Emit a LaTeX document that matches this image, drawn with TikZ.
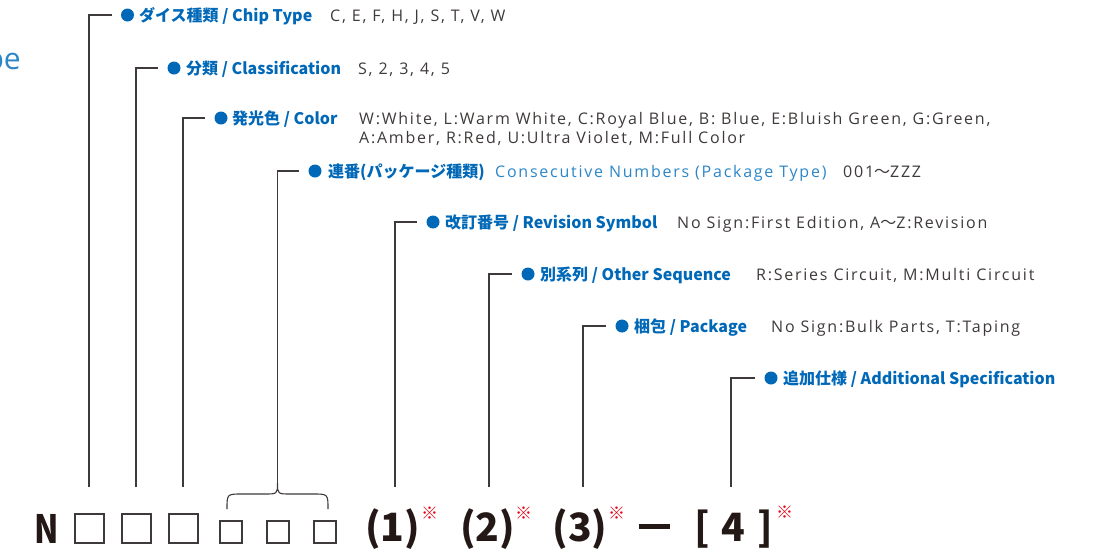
\documentclass[tikz,border=0pt]{standalone}
\usepackage{fontspec}
\setmainfont{Open Sans}
\newfontfamily\descfont{Open Sans}[LetterSpace=11]
\newfontfamily\jpfont{Noto Sans CJK JP}
\newfontfamily\narrowfont{Noto Sans CJK JP}[FakeStretch=0.82]
\usetikzlibrary{positioning}
\definecolor{nblue}{HTML}{0068B7}
\definecolor{lblue}{HTML}{2B86C8}
\definecolor{ngray}{HTML}{3E3A39}
\definecolor{nblack}{HTML}{231815}
\definecolor{nred}{HTML}{E60012}

\begin{document}
\begin{tikzpicture}[x=1pt, y=-1pt,
    dot/.style = {circle, fill=nblue, inner sep=0pt, minimum size=13pt},
    lbl/.style = {anchor=base west, inner sep=0pt, text=nblue, font=\jpfont\bfseries\fontsize{16pt}{19pt}\selectfont},
    desc/.style = {anchor=base west, inner sep=0pt, text=ngray, font=\descfont\fontsize{16pt}{19pt}\selectfont},
    bigbox/.style = {draw=ngray, line width=1.3pt, minimum size=29pt, inner sep=0pt},
    smallbox/.style = {bigbox, minimum size=22pt},
    code/.style = {anchor=base, inner sep=0pt, text=nblack, font=\jpfont\bfseries\fontsize{39pt}{40pt}\selectfont},
    note/.style = {inner sep=0pt, text=nred, font=\jpfont\fontsize{17pt}{17pt}\selectfont},
    leg/.style = {draw=ngray, line width=1.1pt, shorten >=9pt}]
    \useasboundingbox (0,0) rectangle (1093,550);

    \node[anchor=base east, inner sep=0pt, text=lblue, font=\fontsize{30pt}{32pt}\selectfont] (cut) at (21,69) {pe};

    \node[dot] (d1) at (127.5,15) {};
    \node[dot] (d2) at (174,68) {};
    \node[dot] (d3) at (221,118) {};
    \node[dot] (d4) at (315,171) {};
    \node[dot] (d5) at (433,222) {};
    \node[dot] (d6) at (528,274) {};
    \node[dot] (d7) at (622,326) {};
    \node[dot] (d8) at (771,378) {};

    \node[lbl] (l1) at (139,21) {ダイス種類 / Chip Type};
    \node[desc] (c1) at (330,21) {C, E, F, H, J, S, T, V, W};
    \node[lbl] (l2) at (186,74) {分類 / Classification};
    \node[desc] (c2) at (358,74) {S, 2, 3, 4, 5};
    \node[lbl] (l3) at (232,124) {発光色 / Color};
    \node[desc] (c3) at (359,124) {W:White, L:Warm White, C:Royal Blue, B: Blue, E:Bluish Green, G:Green,};
    \node[desc] (c3b) at (359,143) {A:Amber, R:Red, U:Ultra Violet, M:Full Color};
    \node[lbl] (l4) at (328,177) {連番(パッケージ種類)};
    \node[desc, text=lblue] (l4b) at (495,177) {Consecutive Numbers (Package Type)};
    \node[desc] (c4) at (843,177) {001{\jpfont ～}ZZZ};
    \node[lbl] (l5) at (445,228) {改訂番号 / Revision Symbol};
    \node[desc] (c5) at (677,228) {No Sign:First Edition, A{\jpfont ～}Z:Revision};
    \node[lbl] (l6) at (540,280) {別系列 / Other Sequence};
    \node[desc] (c6) at (756,280) {R:Series Circuit, M:Multi Circuit};
    \node[lbl] (l7) at (634,332) {梱包 / Package};
    \node[desc] (c7) at (771,332) {No Sign:Bulk Parts, T:Taping};
    \node[lbl] (l8) at (783,384) {追加仕様 / Additional Specification};

    \node[code, font=\narrowfont\bfseries\fontsize{39pt}{40pt}\selectfont] (n) at (47,543) {N};
    \node[bigbox] (b1) at (89.5,528.5) {};
    \node[bigbox] (b2) at (136.5,528.5) {};
    \node[bigbox] (b3) at (183.5,528.5) {};
    \node[smallbox] (b4) at (231,532) {};
    \node[smallbox] (b5) at (278,532) {};
    \node[smallbox] (b6) at (325,532) {};
    \node[code] (p1) at (392.5,541) {(1)};
    \node[note] (s1) at (429.5,513.5) {※};
    \node[code] (p2) at (487.5,541) {(2)};
    \node[note] (s2) at (523.5,513.5) {※};
    \node[code] (p3) at (580,541) {(3)};
    \node[note] (s3) at (616.5,513.5) {※};
    \node[fill=nblack, inner sep=0pt, minimum width=31pt, minimum height=5pt] (dash) at (654.5,526.5) {};
    \node[code] (lb) at (702,541) {[};
    \node[code] (p4) at (733.5,541) {4};
    \node[code] (rb) at (765,541) {]};
    \node[note] (s4) at (784.5,512) {※};

    \coordinate (f1) at (89,487);
    \coordinate (f2) at (136,487);
    \coordinate (f3) at (183,487);
    \coordinate (brc) at (277.5,483);
    \coordinate (f5) at (395,487);
    \coordinate (f6) at (489,487);
    \coordinate (f7) at (583,487);
    \coordinate (f8) at (731,487);

    \draw[ngray, line width=1.1pt] (227,509) .. controls (227,494) .. (242,494) -- (264,494)
        .. controls (277.5,494) .. (brc) .. controls (277.5,494) .. (291,494) -- (313,494)
        .. controls (328,494) .. (328,509);

    \draw[leg] (f1) |- (d1);
    \draw[leg] (f2) |- (d2);
    \draw[leg] (f3) |- (d3);
    \draw[leg] (brc) |- (d4);
    \draw[leg] (f5) |- (d5);
    \draw[leg] (f6) |- (d6);
    \draw[leg] (f7) |- (d7);
    \draw[leg] (f8) |- (d8);
\end{tikzpicture}
\end{document}
